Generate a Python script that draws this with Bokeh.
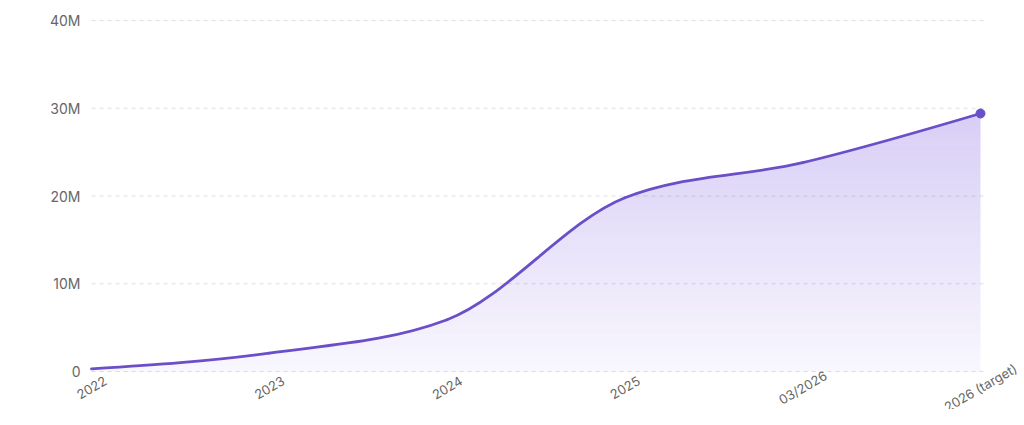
import numpy as np
from bokeh.plotting import figure
from bokeh.models import Range1d, FixedTicker
from bokeh.embed import file_html
from bokeh.resources import INLINE
from bokeh.core.properties import value

# ---- data ----
categories = ["2022", "2023", "2024", "2025", "03/2026", "2026 (target)"]
users_m = [0.3, 2.1, 5.9, 19.8, 23.8, 29.4]          # millions
y_ticks = [0, 10, 20, 30, 40]
y_tick_labels = ["0", "10M", "20M", "30M", "40M"]

# ---- layout / style ----
LINE = "#6a4fc8"
FILL = "#7c5ce0"
FONT = "Inter"
TXT = "#666666"
W, H = 1024, 409
FRAME_L = 65                       # frame edge (room for rotated labels)
X_FIRST, X_LAST = 91, 980          # pixel columns of first / last category
Y_TOP, Y_ZERO = 20, 371            # pixel rows of 40M and 0
GRID_PAD = 4                       # grid overhang past last category (px)
LABEL_DROP = 16                    # category label centre below the 0 line (px)
Y_LABEL_RIGHT = 80                 # right edge of y tick labels (px)

n = len(categories)
xs = np.arange(n, dtype=float)
ys = np.array(users_m, dtype=float)
px_x = (X_LAST - X_FIRST) / (n - 1)
px_y = (Y_ZERO - Y_TOP) / (y_ticks[-1] - y_ticks[0])

# monotone-X tangents (same construction as d3.curveMonotoneX)
def monotone_tangents(x, y):
    m = len(x)
    t = np.zeros(m)
    for i in range(1, m - 1):
        h0 = x[i] - x[i - 1]
        h1 = x[i + 1] - x[i]
        s0 = (y[i] - y[i - 1]) / h0
        s1 = (y[i + 1] - y[i]) / h1
        pp = (s0 * h1 + s1 * h0) / (h0 + h1)
        t[i] = (np.sign(s0) + np.sign(s1)) * min(abs(s0), abs(s1), 0.5 * abs(pp))
    h = x[1] - x[0]
    t[0] = (3 * (y[1] - y[0]) / h - t[1]) / 2
    h = x[-1] - x[-2]
    t[-1] = (3 * (y[-1] - y[-2]) / h - t[-2]) / 2
    return t

tan = monotone_tangents(xs, ys)

x0s, y0s, x1s, y1s, cx0, cy0, cx1, cy1 = [], [], [], [], [], [], [], []
for i in range(n - 1):
    dx = (xs[i + 1] - xs[i]) / 3
    x0s.append(xs[i]); y0s.append(ys[i])
    x1s.append(xs[i + 1]); y1s.append(ys[i + 1])
    cx0.append(xs[i] + dx); cy0.append(ys[i] + dx * tan[i])
    cx1.append(xs[i + 1] - dx); cy1.append(ys[i + 1] - dx * tan[i + 1])

cx, cy = [], []
for i in range(n - 1):
    tt = np.linspace(0, 1, 60, endpoint=(i == n - 2))
    b0 = (1 - tt) ** 3
    b1 = 3 * (1 - tt) ** 2 * tt
    b2 = 3 * (1 - tt) * tt ** 2
    b3 = tt ** 3
    cx.extend(b0 * x0s[i] + b1 * cx0[i] + b2 * cx1[i] + b3 * x1s[i])
    cy.extend(b0 * y0s[i] + b1 * cy0[i] + b2 * cy1[i] + b3 * y1s[i])
cx = np.array(cx)
cy = np.array(cy)

p = figure(width=W, height=H, output_backend="svg", toolbar_location=None,
           x_range=Range1d(-(X_FIRST - FRAME_L) / px_x, (n - 1) + (W - X_LAST) / px_x),
           y_range=Range1d(y_ticks[0] - (H - Y_ZERO) / px_y, y_ticks[-1] + Y_TOP / px_y),
           min_border_left=FRAME_L, min_border_right=0, min_border_top=0,
           min_border_bottom=0)
p.outline_line_color = None
p.background_fill_color = "white"
p.border_fill_color = "white"
p.xaxis.visible = False
p.grid.visible = False

# dashed horizontal grid at the y ticks, spanning the category extent
p.segment(x0=[xs[0]] * len(y_ticks), x1=[xs[-1] + GRID_PAD / px_x] * len(y_ticks),
          y0=y_ticks, y1=y_ticks, line_color="#dedede", line_width=1,
          line_dash="4 4")

# gradient area (bands coloured by height)
ymax = ys.max()
nb = 48
edges = np.linspace(0, ymax, nb + 1)
for i in range(nb):
    a, b = edges[i], edges[i + 1]
    frac = (a + b) / 2 / ymax
    p.varea(x=cx, y1=np.minimum(cy, a), y2=np.minimum(cy, b),
            fill_color=FILL, fill_alpha=0.05 + 0.25 * frac)

p.bezier(x0=x0s, y0=y0s, x1=x1s, y1=y1s, cx0=cx0, cy0=cy0, cx1=cx1, cy1=cy1,
         line_color=LINE, line_width=2.8, line_cap="round")
p.scatter(x=[xs[-1]], y=[ys[-1]], size=9, color=LINE)

# y axis
p.yaxis.ticker = FixedTicker(ticks=y_ticks)
p.yaxis.major_label_overrides = {t: l for t, l in zip(y_ticks, y_tick_labels)}
p.yaxis.axis_line_color = None
p.yaxis.major_tick_line_color = None
p.yaxis.minor_tick_line_color = None
p.yaxis.major_tick_out = 0
p.yaxis.major_tick_in = 0
p.yaxis.major_label_standoff = -(Y_LABEL_RIGHT - FRAME_L)
p.yaxis.major_label_text_font = FONT
p.yaxis.major_label_text_font_size = "14px"
p.yaxis.major_label_text_color = TXT

# rotated category labels
p.text(x=xs, y=[-LABEL_DROP / px_y] * n, text=categories, angle=np.pi / 6,
       text_align="center", text_baseline="middle",
       text_font=value(FONT), text_font_size="13px", text_color=TXT)

open("out.html", "w").write(file_html(p, INLINE))
